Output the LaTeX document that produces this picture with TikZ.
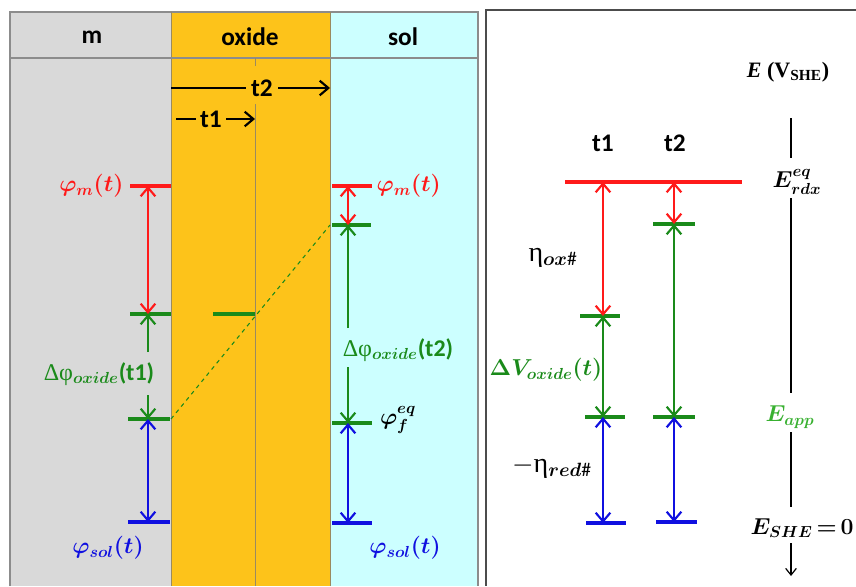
\documentclass[tikz,border=0pt]{standalone}
\usepackage{amsmath,bm}
\usepackage{fontspec}
\setmainfont{Carlito}
\newfontfamily\gk{Liberation Serif}
\usetikzlibrary{arrows.meta}
\definecolor{mgray}{HTML}{D9D9D9}
\definecolor{oxc}{HTML}{FDC31A}
\definecolor{solc}{HTML}{CCFFFF}
\definecolor{rd}{HTML}{FF1A1A}
\definecolor{gn}{HTML}{1A8A1A}
\definecolor{bl}{HTML}{1010E0}
\definecolor{lgn}{HTML}{38B030}
\definecolor{edge}{HTML}{8C8C8C}
\definecolor{edgeb}{HTML}{9A8A60}
\begin{document}
\begin{tikzpicture}[x=0.75pt,y=-0.75pt,
  every node/.style={font=\fontsize{16.5}{19}\selectfont, inner sep=1pt},
  lvl/.style={line width=2.4pt},
  one/.style={line width=1.9pt,-{Straight Barb[length=6.5pt,width=11pt,line width=1.6pt]}},
  two/.style={line width=1.9pt,{Straight Barb[length=6.5pt,width=11pt,line width=1.6pt]}-{Straight Barb[length=6.5pt,width=11pt,line width=1.6pt]}},
  hdr/.style={font=\fontsize{19}{22}\selectfont\bfseries},
  big/.style={font=\fontsize{18}{21}\selectfont}]
\useasboundingbox (0,0) rectangle (856,586);
% ---------- left panel ----------
\fill[mgray] (10,12) rectangle (171,586);
\fill[oxc] (171,12) rectangle (330,586);
\fill[solc] (330,12) rectangle (478,586);
\draw[edge, line width=0.8pt] (10,586) -- (10,12) -- (478,12) -- (478,586);
\draw[edgeb, line width=0.6pt] (171,12) -- (171,586) (330,12) -- (330,586);
\draw[edge, line width=0.8pt] (10,58) -- (478,58);
\draw[edgeb, line width=0.6pt] (255,58) -- (255,66) (255,104) -- (255,586);
\node[hdr] (hm) at (92,37) {m};
\node[hdr] (hox) at (250,37) {oxide};
\node[hdr] (hsol) at (403,37) {sol};
% time arrows
\coordinate (t2s) at (171,88); \coordinate (t2e) at (330,88);
\coordinate (t1s) at (176,119); \coordinate (t1e) at (255,119);
\draw[one] (t2s) -- (t2e);
\draw[one] (t1s) -- (t1e);
\node[hdr, fill=oxc, inner sep=4pt] (lt2) at (262,88) {t2};
\node[hdr, fill=oxc, inner sep=3pt] (lt1) at (211,119) {t1};
% m column
\coordinate (mA) at (148,186); \coordinate (mB) at (148,314);
\coordinate (mC) at (148,419); \coordinate (mD) at (148,522);
\draw[rd, lvl] (130,186) -- (171,186);
\draw[gn, lvl] (130,314) -- (171,314);
\draw[gn, lvl] (128,419) -- (170,419);
\draw[bl, lvl] (128,522) -- (170,522);
\node[rd, anchor=east] (pm1) at (125,186) {$\bm{\varphi_m(t)}$};
\draw[rd, two] (mA) -- (mB);
\node[gn, big] (dox1) at (99,374) {{\gk Δφ}$_{\bm{oxide}}$\textbf{(t1)}};
\coordinate (g1a) at (148,352); \coordinate (g1b) at (148,395);
\draw[gn, one] (g1a) -- (mB);
\draw[gn, one] (g1b) -- (mC);
\draw[bl, two] (mC) -- (mD);
\node[bl] (ps1) at (108,548) {$\bm{\varphi_{sol}(t)}$};
% oxide
\draw[gn, lvl] (213,314) -- (255,314);
\coordinate (dsA) at (171,419); \coordinate (dsB) at (330,225);
\draw[gn, dashed, line width=0.8pt] (dsA) -- (dsB);
% sol column
\coordinate (sA) at (348,186); \coordinate (sB) at (348,225);
\coordinate (sC) at (348,423); \coordinate (sD) at (348,523);
\draw[rd, lvl] (332,186) -- (372,186);
\draw[gn, lvl] (332,225) -- (371,225);
\draw[gn, lvl] (332,423) -- (372,423);
\draw[bl, lvl] (332,523) -- (372,523);
\node[rd, anchor=west] (pm2) at (375,186) {$\bm{\varphi_m(t)}$};
\draw[rd, two] (sA) -- (sB);
\coordinate (g2a) at (348,328); \coordinate (g2b) at (348,367);
\draw[gn, one] (g2a) -- (sB);
\draw[gn, one] (g2b) -- (sC);
\node[gn, big] (dox2) at (398,350) {{\gk Δφ}$_{\bm{oxide}}$\textbf{(t2)}};
\node[big] (pfeq) at (398,420) {$\bm{\varphi_f^{eq}}$};
\draw[bl, two] (sC) -- (sD);
\node[bl] (ps2) at (405,548) {$\bm{\varphi_{sol}(t)}$};
% ---------- right panel ----------
\draw[black!70, line width=0.8pt] (856,10) -- (486,10) -- (486,586);
\node (Eaxis) at (788,72) {\gk\bfseries\textit{E} (V\textsubscript{SHE})};
\node[hdr] (rt1) at (603,143) {t1};
\node[hdr] (rt2) at (675,143) {t2};
\node (Erdx) at (797,182) {$\bm{E^{eq}_{rdx}}$};
\node[lgn] (Eapp) at (790,417) {$\bm{E_{app}}$};
\node (Eshe) at (802,528) {$\bm{E_{SHE}}\,{\bm{=}}\,\bm{0}$};
\coordinate (ax0) at (791,118); \coordinate (ax1) at (791,158);
\coordinate (ax2) at (791,198); \coordinate (ax3) at (791,393);
\coordinate (ax4) at (791,432); \coordinate (ax5) at (791,507);
\coordinate (ax6) at (791,543); \coordinate (ax7) at (791,576);
\draw[line width=0.9pt] (ax0) -- (ax1) (ax2) -- (ax3) (ax4) -- (ax5);
\draw[line width=0.9pt, -{Straight Barb[length=5pt,width=8pt,line width=0.9pt]}] (ax6) -- (ax7);
\draw[rd, lvl] (565,182) -- (742,182);
% t1 column
\coordinate (aA) at (603,182); \coordinate (aB) at (603,316);
\coordinate (aC) at (603,417); \coordinate (aD) at (603,523);
\draw[gn, lvl] (580,316) -- (620,316);
\draw[gn, lvl] (585,417) -- (625,417);
\draw[bl, lvl] (586,523) -- (626,523);
\draw[rd, two] (aA) -- (aB);
\draw[gn, two] (aB) -- (aC);
\draw[bl, two] (aC) -- (aD);
% t2 column
\coordinate (bA) at (674,182); \coordinate (bB) at (674,224);
\coordinate (bC) at (674,417); \coordinate (bD) at (674,522);
\draw[gn, lvl] (653,224) -- (695,224);
\draw[gn, lvl] (653,417) -- (695,417);
\draw[bl, lvl] (656,522) -- (697,522);
\draw[rd, two] (bA) -- (bB);
\draw[gn, two] (bB) -- (bC);
\draw[bl, two] (bC) -- (bD);
% labels
\node[font=\fontsize{21}{24}\selectfont] (etaox) at (553,258) {{\gk η}$_{\bm{ox\#}}$};
\node[gn] (dV) at (546,370) {$\bm{\Delta V_{oxide}(t)}$};
\node[font=\fontsize{21}{24}\selectfont] (etared) at (552,467) {$-${\gk η}$_{\bm{red\#}}$};
\end{tikzpicture}
\end{document}
